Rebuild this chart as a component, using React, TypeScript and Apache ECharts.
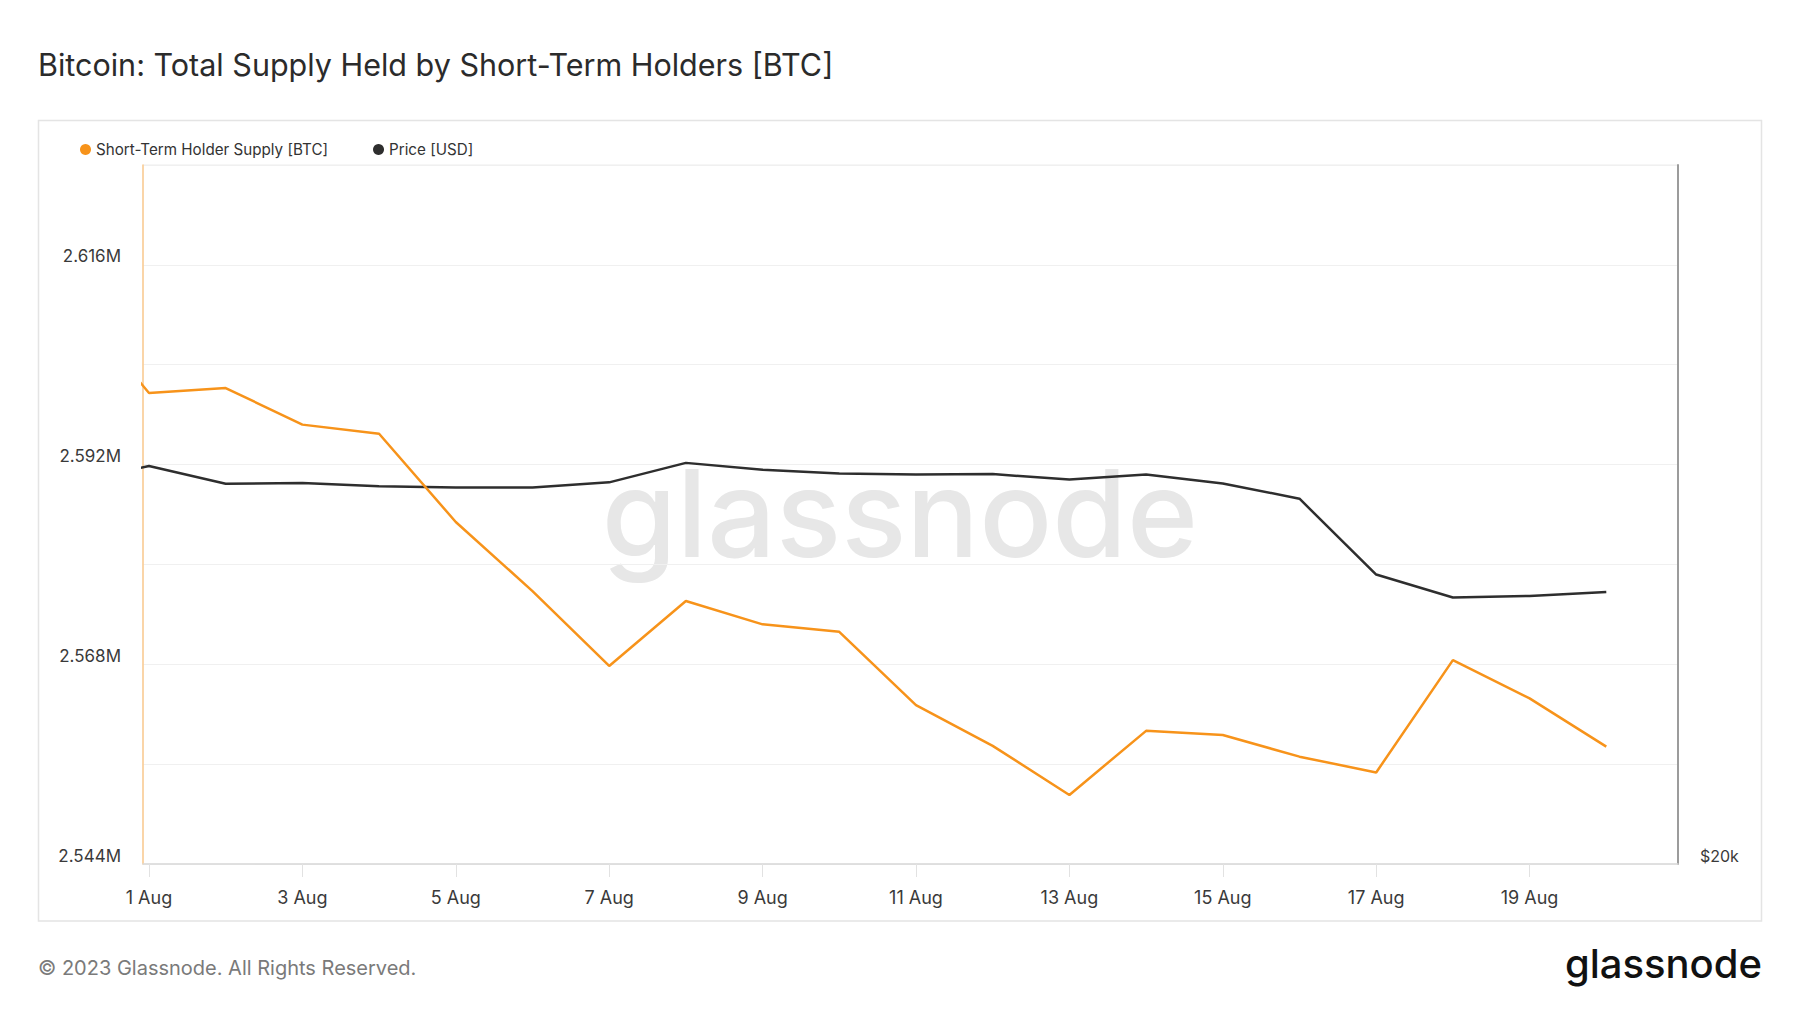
import React, { useEffect, useRef } from 'react';
import * as echarts from 'echarts';

// ---- data ----
const dates = [
  '2023-07-31', '2023-08-01', '2023-08-02', '2023-08-03', '2023-08-04', '2023-08-05', '2023-08-06',
  '2023-08-07', '2023-08-08', '2023-08-09', '2023-08-10', '2023-08-11', '2023-08-12', '2023-08-13',
  '2023-08-14', '2023-08-15', '2023-08-16', '2023-08-17', '2023-08-18', '2023-08-19', '2023-08-20',
];
const sthSupply = [
  2611700, 2600600, 2601200, 2596800, 2595700, 2585100, 2576800,
  2567800, 2575600, 2572800, 2571900, 2563100, 2558200, 2552300,
  2560000, 2559500, 2556900, 2555000, 2568500, 2563900, 2558100,
];
const priceUsd = [
  29160, 29680, 29160, 29180, 29090, 29050, 29050,
  29200, 29770, 29570, 29460, 29430, 29440, 29280,
  29430, 29170, 28730, 26650, 26050, 26090, 26190,
];
const xTickDays = [0, 2, 4, 6, 8, 10, 12, 14, 16, 18];
const xTickLabels = ['1 Aug', '3 Aug', '5 Aug', '7 Aug', '9 Aug', '11 Aug', '13 Aug', '15 Aug', '17 Aug', '19 Aug'];
const yLeftMin = 2544000;
const yLeftMax = 2628000;
const yLeftGridStep = 12000;
const yLeftLabelStep = 24000;
const priceMin = 20000;
const priceMax = 40000;
const priceLabels = ['$20k'];

const seriesNames = ['Short-Term Holder Supply [BTC]', 'Price [USD]'];
const titleText = 'Bitcoin: Total Supply Held by Short-Term Holders [BTC]';
const footerText = '© 2023 Glassnode. All Rights Reserved.';

const DAY = 86400000;
const origin = Date.parse('2023-08-01');
const dayOf = (d: string) => (Date.parse(d) - origin) / DAY;

const FONT = 'Inter, "Noto Sans", sans-serif';

export default function App() {
  const ref = useRef<HTMLDivElement>(null);
  useEffect(() => {
    document.body.style.margin = '0';
    const chart = echarts.init(ref.current!, null, { renderer: 'svg' });
    const supplyData = dates.map((d, i) => [dayOf(d), sthSupply[i]]);
    const priceData = dates.map((d, i) => [dayOf(d), priceUsd[i]]);
    chart.setOption({
      animation: false,
      backgroundColor: '#ffffff',
      textStyle: { fontFamily: FONT },
      title: {
        text: titleText,
        left: 33,
        top: 44,
        textStyle: { fontFamily: FONT, fontSize: 30.5, fontWeight: 400, color: '#2b2b2b' },
      },
      legend: {
        left: 75,
        top: 137,
        icon: 'circle',
        itemWidth: 11,
        itemHeight: 11,
        itemGap: 45,
        data: seriesNames,
        textStyle: { fontFamily: FONT, fontSize: 15.2, color: '#333333' },
      },
      grid: {
        left: 143,
        right: 122,
        top: 165,
        bottom: 149,
        show: true,
        borderColor: '#ececec',
        borderWidth: 1,
      },
      xAxis: {
        type: 'value',
        min: -0.078,
        max: 19.935,
        axisLine: { show: true, onZero: false, lineStyle: { color: '#d9d9d9', width: 1.5 } },
        axisTick: { show: true, length: 13, customValues: xTickDays, lineStyle: { color: '#e2e2e2', width: 1 } },
        axisLabel: {
          customValues: xTickDays,
          formatter: (v: number) => {
            const i = xTickDays.indexOf(Math.round(v));
            return i >= 0 ? xTickLabels[i] : '';
          },
          margin: 24,
          fontSize: 18,
          fontFamily: FONT,
          color: '#3a3a3a',
        },
        splitLine: { show: false },
      },
      yAxis: [
        {
          type: 'value',
          position: 'left',
          min: yLeftMin,
          max: yLeftMax,
          interval: yLeftGridStep,
          axisLine: { show: true, onZero: false, lineStyle: { color: '#fbca8e', width: 1.5 } },
          axisTick: { show: false },
          axisLabel: {
            formatter: (v: number) => {
              const r = Math.round(v - yLeftMin);
              return r % yLeftLabelStep === 0 ? (Math.round(v) / 1e6).toFixed(3) + 'M' : '';
            },
            fontSize: 17,
            fontFamily: FONT,
            color: '#3a3a3a',
            margin: 22,
            verticalAlign: 'bottom',
            lineHeight: 17,
          },
          splitLine: { show: true, lineStyle: { color: '#f0f0f0', width: 1 } },
        },
        {
          type: 'log',
          logBase: 10,
          position: 'right',
          min: priceMin,
          max: priceMax,
          axisLine: { show: true, onZero: false, lineStyle: { color: '#9c9c9c', width: 2 } },
          axisTick: { show: false },
          axisLabel: {
            showMinLabel: true,
            formatter: (v: number) => (Math.abs(v - priceMin) < 1 ? priceLabels[0] : ''),
            fontSize: 16,
            fontFamily: FONT,
            color: '#3a3a3a',
            margin: 22,
            verticalAlign: 'bottom',
            lineHeight: 17,
          },
          splitLine: { show: false },
        },
      ],
      series: [
        {
          name: seriesNames[1],
          type: 'line',
          yAxisIndex: 1,
          data: priceData,
          showSymbol: false,
          symbol: 'none',
          lineStyle: { color: '#2e2e2e', width: 2.5 },
          itemStyle: { color: '#2e2e2e' },
          z: 2,
        },
        {
          name: seriesNames[0],
          type: 'line',
          yAxisIndex: 0,
          data: supplyData,
          showSymbol: false,
          symbol: 'none',
          lineStyle: { color: '#f7931a', width: 2.5 },
          itemStyle: { color: '#f7931a' },
          z: 3,
        },
      ],
      graphic: [
        {
          type: 'rect',
          silent: true,
          z: -10,
          shape: { x: 38.5, y: 120.5, width: 1723, height: 800.5 },
          style: { fill: 'none', stroke: '#e4e4e4', lineWidth: 1.5 },
        },
        {
          type: 'text',
          silent: true,
          z: -5,
          style: {
            text: 'glassnode',
            x: 900,
            y: 513,
            align: 'center',
            verticalAlign: 'middle',
            fontSize: 121,
            fontWeight: 500,
            fontFamily: FONT,
            fill: '#e7e7e7',
          },
        },
        {
          type: 'text',
          silent: true,
          style: {
            text: footerText,
            x: 38,
            y: 968,
            align: 'left',
            verticalAlign: 'middle',
            fontSize: 20,
            fontFamily: FONT,
            fill: '#7a7a7a',
          },
        },
        {
          type: 'text',
          silent: true,
          style: {
            text: 'glassnode',
            x: 1762,
            y: 963,
            align: 'right',
            verticalAlign: 'middle',
            fontSize: 40,
            fontWeight: 500,
            fontFamily: FONT,
            fill: '#111111',
          },
        },
      ],
    });
    return () => chart.dispose();
  }, []);
  return <div ref={ref} style={{ position: 'fixed', left: 0, top: 0, width: 1800, height: 1013 }} />;
}
